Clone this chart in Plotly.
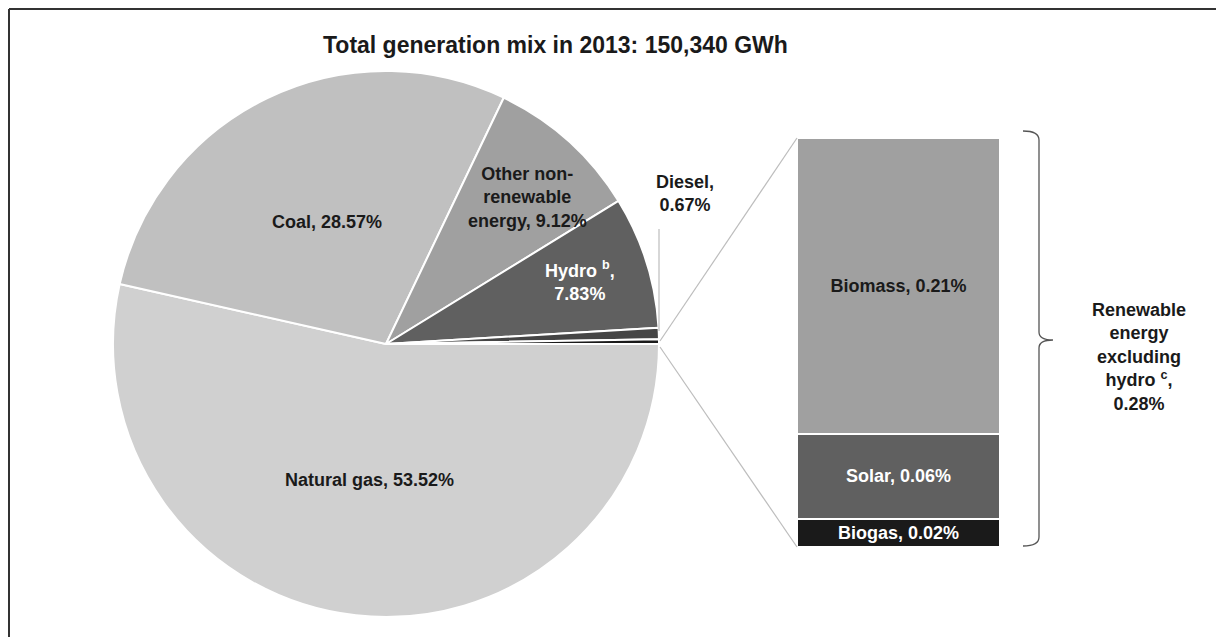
import plotly.graph_objects as go

W, H = 1216, 637

# ---- data ----
pie_labels = ["Natural gas", "Coal", "Other non-renewable energy", "Hydro", "Diesel",
              "Renewable energy excluding hydro"]
pie_values = [53.52, 28.57, 9.12, 7.83, 0.67, 0.28]
pie_colors = ["#d0d0d0", "#c0c0c0", "#a0a0a0", "#606060", "#454545", "#1a1a1a"]

bar_labels = ["Biogas", "Solar", "Biomass"]          # bottom -> top
bar_values = [0.02, 0.06, 0.21]
bar_colors = ["#1a1a1a", "#606060", "#a0a0a0"]
bar_text_colors = ["white", "white", "#1a1a1a"]

title_text = "Total generation mix in 2013: 150,340 GWh"

FONT = "Liberation Sans, Arial, sans-serif"
DARK = "#1a1a1a"


def px(x, y):
    return x / W, 1 - y / H


fig = go.Figure()

# pie
x0, y1 = px(113, 71)
x1, y0 = px(659, 617)
fig.add_trace(go.Pie(
    labels=pie_labels, values=pie_values, sort=False, direction="clockwise",
    rotation=90, textinfo="none", hoverinfo="label+value",
    marker=dict(colors=pie_colors, line=dict(color="white", width=2)),
    domain=dict(x=[x0, x1], y=[y0, y1]), showlegend=False,
))

# stacked bar
for lab, val, col, tcol in zip(bar_labels, bar_values, bar_colors, bar_text_colors):
    fig.add_trace(go.Bar(
        x=[0], y=[val], width=1, marker=dict(color=col, line=dict(color="white", width=1.5)),
        text=[f"{lab}, {val:.2f}%"], textposition="inside", insidetextanchor="middle",
        textangle=0, constraintext="none",
        textfont=dict(family=FONT, size=18, color=tcol, weight="bold"),
        showlegend=False, hoverinfo="text",
    ))

bx0, by1 = px(797, 138)
bx1, by0 = px(1000, 547)
fig.update_layout(
    barmode="stack",
    xaxis=dict(domain=[bx0, bx1], range=[-0.5, 0.5], visible=False, fixedrange=True),
    yaxis=dict(domain=[by0, by1], range=[0, sum(bar_values)], visible=False, fixedrange=True),
)

annotations = []


def ann(x, y, text, color=DARK, size=18):
    ax, ay = px(x, y)
    annotations.append(dict(
        x=ax, y=ay, xref="paper", yref="paper", text=text, showarrow=False,
        xanchor="center", yanchor="middle", align="center",
        font=dict(family=FONT, size=size, color=color, weight="bold"),
    ))


def pct(v):
    return f"{v:.2f}%"


ann(555, 45, title_text, size=23)
ann(369, 480, f"{pie_labels[0]}, {pct(pie_values[0])}")
ann(327, 222, f"{pie_labels[1]}, {pct(pie_values[1])}")
ann(527, 197, f"Other non-<br>renewable<br>energy, {pct(pie_values[2])}")
ann(580, 281, f"Hydro <sup>b</sup>,<br>{pct(pie_values[3])}", color="white")
ann(685, 193, f"{pie_labels[4]},<br>{pct(pie_values[4])}")
ann(1139, 357, f"Renewable<br>energy<br>excluding<br>hydro <sup>c</sup>,<br>{pct(pie_values[5])}")

shapes = []


def line(xa, ya, xb, yb, color="#bdbdbd", width=1.2):
    p0 = px(xa, ya)
    p1 = px(xb, yb)
    shapes.append(dict(type="line", xref="paper", yref="paper",
                       x0=p0[0], y0=p0[1], x1=p1[0], y1=p1[1],
                       line=dict(color=color, width=width)))


# connectors pie -> bar
line(660, 341, 797, 138)
line(660, 347, 797, 547)
# diesel leader
line(659, 229, 659, 331)

# brace
pts = [("M", 1023, 131), ("Q", 1039, 131, 1039, 140), ("L", 1039, 332),
       ("Q", 1039, 340, 1053, 340), ("Q", 1039, 340, 1039, 348), ("L", 1039, 537),
       ("Q", 1039, 546, 1023, 546)]
path = ""
for p in pts:
    cmd = p[0]
    coords = p[1:]
    s = []
    for i in range(0, len(coords), 2):
        a, b = px(coords[i], coords[i + 1])
        s.append(f"{a:.5f},{b:.5f}")
    path += cmd + " " + " ".join(s) + " "
shapes.append(dict(type="path", xref="paper", yref="paper", path=path.strip(),
                   line=dict(color="#555555", width=1.3)))

# border (partially cropped frame)
line(9, 9, W + 5, 9, color="#333333", width=2)
line(9, 9, 9, H + 5, color="#333333", width=2)

fig.update_layout(
    width=W, height=H, margin=dict(l=0, r=0, t=0, b=0),
    paper_bgcolor="white", plot_bgcolor="white",
    annotations=annotations, shapes=shapes,
    font=dict(family=FONT),
)

fig.write_html("out.html")
